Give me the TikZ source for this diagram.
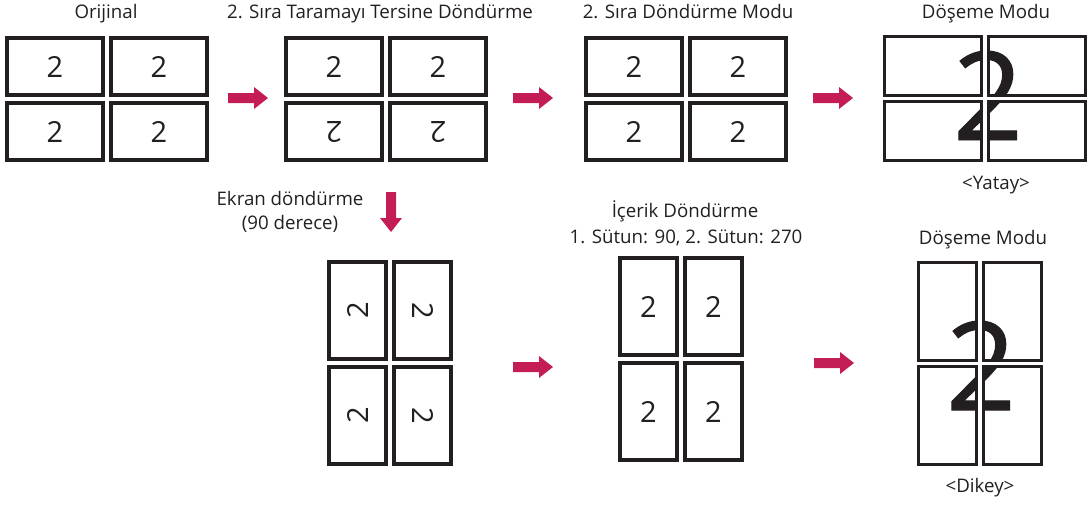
\documentclass[tikz,border=0pt]{standalone}
\usepackage{fontspec}
\setmainfont{Open Sans}
\newfontfamily\bigfont[FakeBold=0.8]{Open Sans}
\definecolor{ink}{RGB}{35,31,32}
\definecolor{arrowc}{RGB}{196,29,86}
\begin{document}
\begin{tikzpicture}[x=1pt,y=-1pt,
  lbl/.style={inner sep=0pt, text=ink, font=\fontsize{18.7}{22}\selectfont, anchor=base},
  land/.style={draw=ink, line width=4pt, fill=white, inner sep=0pt, minimum width=96pt, minimum height=57pt},
  landthin/.style={draw=ink, line width=3pt, fill=white, inner sep=0pt, minimum width=97pt, minimum height=59pt},
  port/.style={draw=ink, line width=4pt, fill=white, inner sep=0pt, minimum width=57pt, minimum height=97pt},
  portthin/.style={draw=ink, line width=3pt, fill=white, inner sep=0pt, minimum width=58pt, minimum height=98pt},
  dig/.style={inner sep=0pt, text=ink, font=\fontsize{29}{29}\selectfont},
  bigdig/.style={inner sep=0pt, text=ink, font=\bigfont\fontsize{123}{123}\selectfont, anchor=base},
  gap/.style={fill=white},
  rarr/.pic={\fill[arrowc] (0,-5) -- (26,-5) -- (26,-11) -- (40,0) -- (26,11) -- (26,5) -- (0,5) -- cycle;},
  darr/.pic={\fill[arrowc] (-5,0) -- (-5,26) -- (-11,26) -- (0,40) -- (11,26) -- (5,26) -- (5,0) -- cycle;}
]
\useasboundingbox (0,0) rectangle (1092,504);
% labels
\node[lbl] (t1) at (106,18) {Orijinal};
\node[lbl] (t2) at (380,18) {2. Sıra Taramayı Tersine Döndürme};
\node[lbl] (t3) at (688,18) {2. Sıra Döndürme Modu};
\node[lbl] (t4) at (986,18) {Döşeme Modu};
\node[lbl] (t5) at (996,189) {<Yatay>};
\node[lbl] (t6) at (290,205) {Ekran döndürme};
\node[lbl] (t7) at (290,229) {(90 derece)};
\node[lbl] (t8) at (685,217) {İçerik Döndürme};
\node[lbl] (t9) at (686,243) {1. Sütun: 90, 2. Sütun: 270};
\node[lbl] (t10) at (983,244) {Döşeme Modu};
\node[lbl] (t11) at (980,492) {<Dikey>};
% group 1: Orijinal
\node[land] (a11) at (55,66.5) {};
\node[land] (a12) at (159,66.5) {};
\node[land] (a21) at (55,131.5) {};
\node[land] (a22) at (159,131.5) {};
\foreach \n in {a11,a12,a21,a22} \node[dig] at (\n) {2};
% group 2
\node[land] (b11) at (334,66.5) {};
\node[land] (b12) at (438,66.5) {};
\node[land] (b21) at (334,131.5) {};
\node[land] (b22) at (438,131.5) {};
\node[dig] at (b11) {2};
\node[dig] at (b12) {2};
\node[dig, rotate=180] at (b21) {2};
\node[dig, rotate=180] at (b22) {2};
% group 3
\node[land] (c11) at (634,66.5) {};
\node[land] (c12) at (738,66.5) {};
\node[land] (c21) at (634,131.5) {};
\node[land] (c22) at (738,131.5) {};
\foreach \n in {c11,c12,c21,c22} \node[dig] at (\n) {2};
% group 4: tiled landscape
\node[landthin] (d11) at (933,66) {};
\node[landthin] (d12) at (1037,66) {};
\node[landthin] (d21) at (933,131) {};
\node[landthin] (d22) at (1037,131) {};
\node[bigdig] (dbig) at (988,140) {2};
\fill[gap] (d11.north east) rectangle (d22.south west);
\fill[gap] (d11.south west) rectangle (d22.north east);
\foreach \n in {d11,d12,d21,d22} \node[landthin, fill=none] at (\n.center) {};
% group 5: rotated screens
\node[port] (e11) at (357.5,310.5) {};
\node[port] (e12) at (422.5,310.5) {};
\node[port] (e21) at (357.5,415.5) {};
\node[port] (e22) at (422.5,415.5) {};
\node[dig, rotate=90] at (e11) {2};
\node[dig, rotate=-90] at (e12) {2};
\node[dig, rotate=90] at (e21) {2};
\node[dig, rotate=-90] at (e22) {2};
% group 6: content rotation
\node[port] (f11) at (648.5,306.5) {};
\node[port] (f12) at (713.5,306.5) {};
\node[port] (f21) at (648.5,411.5) {};
\node[port] (f22) at (713.5,411.5) {};
\foreach \n in {f11,f12,f21,f22} \node[dig] at (\n) {2};
% group 7: tiled portrait
\node[portthin] (g11) at (947.5,311.5) {};
\node[portthin] (g12) at (1012.5,311.5) {};
\node[portthin] (g21) at (947.5,415.5) {};
\node[portthin] (g22) at (1012.5,415.5) {};
\node[bigdig] (gbig) at (981,410) {2};
\fill[gap] (g11.north east) rectangle (g22.south west);
\fill[gap] (g11.south west) rectangle (g22.north east);
\foreach \n in {g11,g12,g21,g22} \node[portthin, fill=none] at (\n.center) {};
% arrows
\pic at (228,98) {rarr};
\pic at (513,98) {rarr};
\pic at (813,98) {rarr};
\pic at (391,192) {darr};
\pic at (513,367) {rarr};
\pic at (814,363) {rarr};
\end{tikzpicture}
\end{document}
